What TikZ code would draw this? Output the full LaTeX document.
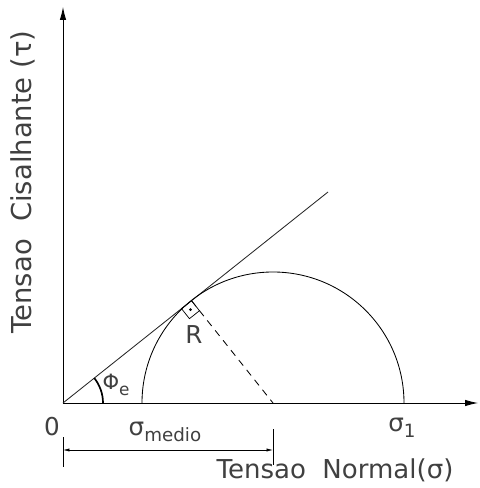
\documentclass[tikz,border=0pt]{standalone}
\usepackage{fontspec}
\setmainfont{DejaVu Sans}
\usetikzlibrary{arrows.meta,calc}
\begin{document}
\begin{tikzpicture}[x=0.025cm,y=0.025cm,line width=0.6pt,
  lbl/.style={inner sep=0pt,text=black!75,font=\fontsize{17.5}{20}\selectfont},
  tip/.style={-{Latex[length=0.32cm,width=0.16cm]}}]
\useasboundingbox (-63,-85) rectangle (417,403);
\coordinate (O) at (0,0);
\coordinate (C) at (210,0);
\coordinate (E) at (265,211);
\coordinate (T) at ($(O)!(C)!(E)$);
% eixos
\draw[tip] (O) -- (0,396);
\draw[tip] (O) -- (415,0);
% envoltoria e circulo de Mohr
\draw[black!85] (O) -- (E);
\draw (341,0) arc[start angle=0,end angle=180,radius=131];
\draw[dashed,dash pattern=on 5pt off 4pt] (T) -- (C);
% angulo reto
\coordinate (ta) at ($(T)!0.32cm!(O)$);
\coordinate (tb) at ($(T)!0.32cm!(C)$);
\draw[line width=0.5pt] (T) -- (ta) -- ($(ta)+(tb)-(T)$) -- (tb) -- cycle;
\fill ($0.5*(ta)+0.5*(tb)$) circle (1.5);
% angulo de atrito
\draw[line width=1.2pt] (40,0) arc[start angle=0,end angle=38.6,radius=40];
% cota
\draw[{Latex[length=0.16cm,width=0.08cm]}-{Latex[length=0.16cm,width=0.08cm]},line width=0.5pt] (0,-47) -- (C|-0,-47);
\draw (0,-34) -- (0,-64);
\draw (C|-0,-26) -- (C|-0,-62);
% textos
\node[lbl] (zero) at (-11,-24) {0};
\node[lbl] (smed) at (102,-29) {σ\raisebox{-0.45ex}{\fontsize{13}{15}\selectfont medio}};
\node[lbl] (sum) at (339,-25) {σ\raisebox{-0.45ex}{\fontsize{13}{15}\selectfont 1}};
\node[lbl] (phi) at (53,18) {\fontsize{15}{17}\selectfont Φ\raisebox{-0.45ex}{\fontsize{12}{14}\selectfont e}};
\node[lbl] (raio) at (131,68) {R};
\node[lbl,font=\fontsize{18.5}{21}\selectfont] (xlab) at (272,-67) {Tensao\ \ Normal(σ)};
\node[lbl,rotate=90,font=\fontsize{19.5}{22}\selectfont] (ylab) at (-40,221) {Tensao\ \ Cisalhante (τ)};
\end{tikzpicture}
\end{document}
